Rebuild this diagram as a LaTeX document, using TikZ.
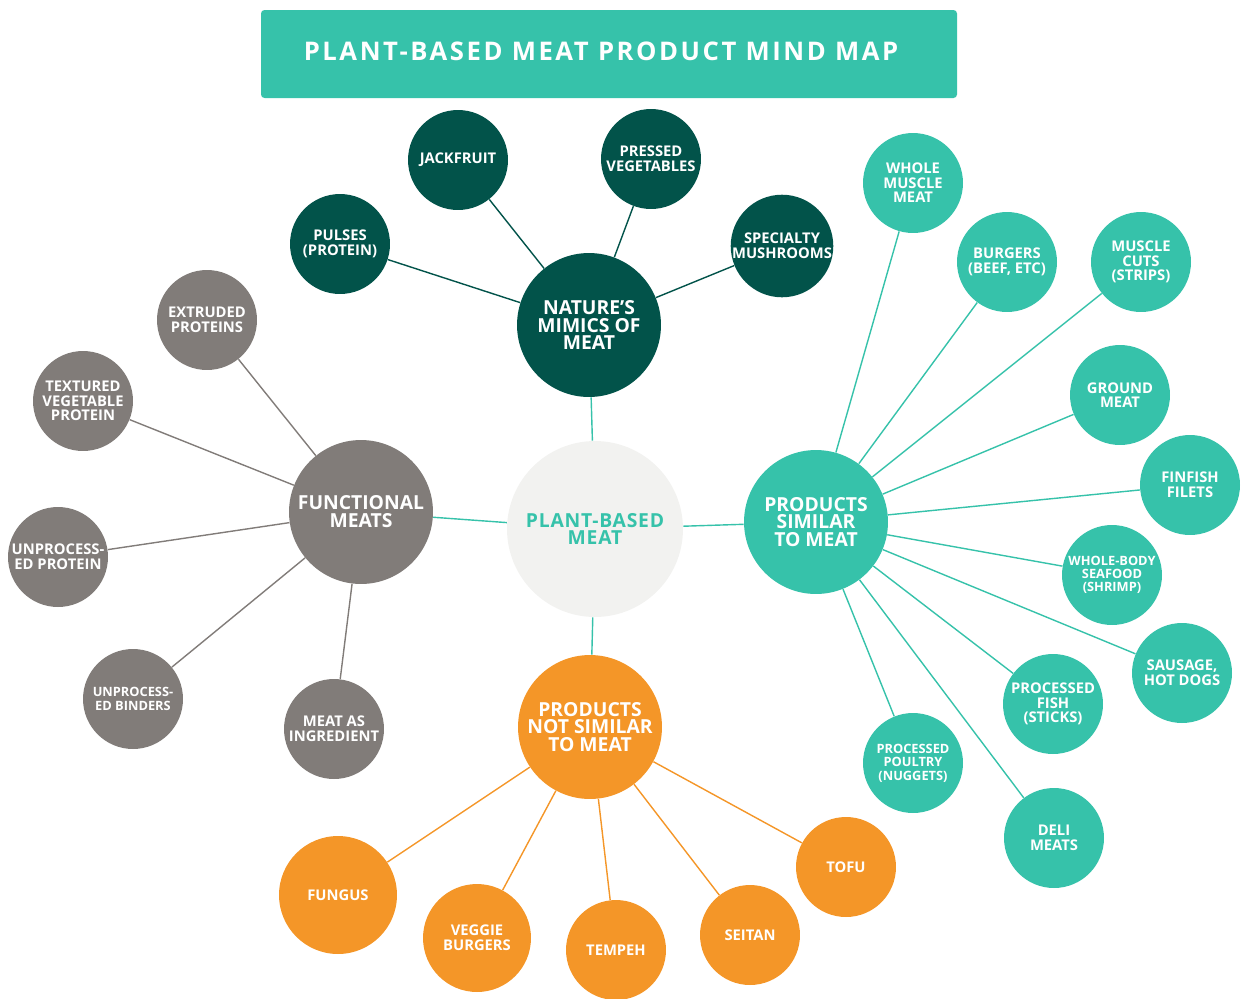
\documentclass[tikz,border=0pt]{standalone}
\usepackage{fontspec}
\setmainfont{Open Sans}
\definecolor{mapteal}{HTML}{36C2AA}
\definecolor{mapgreen}{HTML}{02534A}
\definecolor{mapgray}{HTML}{817C79}
\definecolor{maporange}{HTML}{F49628}
\definecolor{mapcore}{HTML}{F2F2F0}
\tikzset{
  leaf/.style={circle, minimum size=2cm, inner sep=0pt, align=center, text=white,
    font=\bfseries\fontsize{8.4}{8.3}\selectfont},
  smallleaf/.style={leaf, font=\bfseries\fontsize{7.3}{7.6}\selectfont},
  hub/.style={circle, minimum size=2.88cm, inner sep=0pt, align=center, text=white,
    font=\bfseries\fontsize{11}{10.2}\selectfont},
  link/.style={line width=0.8pt},
}
\begin{document}
\begin{tikzpicture}[x=0.02cm,y=-0.02cm]
\useasboundingbox (0,0) rectangle (1241,998);

% Title banner
\fill[mapteal, rounded corners=2pt] (261,10) rectangle (957,98);
\node[text=white, font=\bfseries\fontsize{14.6}{14.6}\selectfont\addfontfeatures{LetterSpace=10}] (title) at (601,51) {PLANT-BASED MEAT PRODUCT MIND MAP};

% Centre and hubs
\node[circle, fill=mapcore, minimum size=3.52cm, inner sep=0pt, align=center, text=mapteal,
  font=\bfseries\fontsize{11}{9.8}\selectfont\addfontfeatures{LetterSpace=4}] (core) at (595,529) {PLANT-BASED\\MEAT};
\node[hub, fill=mapgreen] (nature) at (589,325) {NATURE’S\\MIMICS OF\\MEAT};
\node[hub, fill=mapgray] (functional) at (361,512) {FUNCTIONAL\\MEATS};
\node[hub, fill=mapteal] (similar) at (816,522) {PRODUCTS\\SIMILAR\\TO MEAT};
\node[hub, fill=maporange] (notsimilar) at (590,727) {PRODUCTS\\NOT SIMILAR\\TO MEAT};

\foreach \h in {nature,functional,similar,notsimilar}
  \draw[link, mapteal] (core) -- (\h);

% Nature's mimics of meat
\node[leaf, fill=mapgreen] (pulses) at (340,244) {PULSES\\(PROTEIN)};
\node[leaf, fill=mapgreen] (jackfruit) at (458,160) {JACKFRUIT};
\node[leaf, fill=mapgreen] (pressed) at (651,159) {PRESSED\\VEGETABLES};
\node[leaf, fill=mapgreen] (mushrooms) at (782,246) {SPECIALTY\\MUSHROOMS};
\foreach \n in {pulses,jackfruit,pressed,mushrooms}
  \draw[link, mapgreen] (nature) -- (\n);

% Functional meats
\node[leaf, fill=mapgray] (extruded) at (207,320) {EXTRUDED\\PROTEINS};
\node[leaf, fill=mapgray] (textured) at (83,401) {TEXTURED\\VEGETABLE\\PROTEIN};
\node[leaf, fill=mapgray] (unprotein) at (58,557) {UNPROCESS-\\ED PROTEIN};
\node[smallleaf, fill=mapgray] (unbinders) at (133,699) {UNPROCESS-\\ED BINDERS};
\node[leaf, fill=mapgray] (ingredient) at (334,729) {MEAT AS\\INGREDIENT};
\foreach \n in {extruded,textured,unprotein,unbinders,ingredient}
  \draw[link, mapgray] (functional) -- (\n);

% Products similar to meat
\node[leaf, fill=mapteal] (wholemuscle) at (913,183) {WHOLE\\MUSCLE\\MEAT};
\node[leaf, fill=mapteal] (burgers) at (1007,262) {BURGERS\\(BEEF, ETC)};
\node[leaf, fill=mapteal] (cuts) at (1141,262) {MUSCLE\\CUTS\\(STRIPS)};
\node[leaf, fill=mapteal] (ground) at (1120,395) {GROUND\\MEAT};
\node[leaf, fill=mapteal] (finfish) at (1190,485) {FINFISH\\FILETS};
\node[smallleaf, fill=mapteal] (seafood) at (1112,575) {WHOLE-BODY\\SEAFOOD\\(SHRIMP)};
\node[leaf, fill=mapteal] (sausage) at (1182,673) {SAUSAGE,\\HOT DOGS};
\node[leaf, fill=mapteal] (fish) at (1053,704) {PROCESSED\\FISH\\(STICKS)};
\node[leaf, fill=mapteal] (deli) at (1054,838) {DELI\\MEATS};
\node[smallleaf, fill=mapteal] (poultry) at (913,763) {PROCESSED\\POULTRY\\(NUGGETS)};
\foreach \n in {wholemuscle,burgers,cuts,ground,finfish,seafood,sausage,fish,deli,poultry}
  \draw[link, mapteal] (similar) -- (\n);

% Products not similar to meat
\node[leaf, fill=maporange, minimum size=2.36cm] (fungus) at (338,895) {FUNGUS};
\node[leaf, fill=maporange, minimum size=2.16cm] (veggie) at (477,938) {VEGGIE\\BURGERS};
\node[leaf, fill=maporange] (tempeh) at (616,950) {TEMPEH};
\node[leaf, fill=maporange] (seitan) at (750,935) {SEITAN};
\node[leaf, fill=maporange] (tofu) at (846,867) {TOFU};
\foreach \n in {fungus,veggie,tempeh,seitan,tofu}
  \draw[link, maporange] (notsimilar) -- (\n);

\end{tikzpicture}
\end{document}
